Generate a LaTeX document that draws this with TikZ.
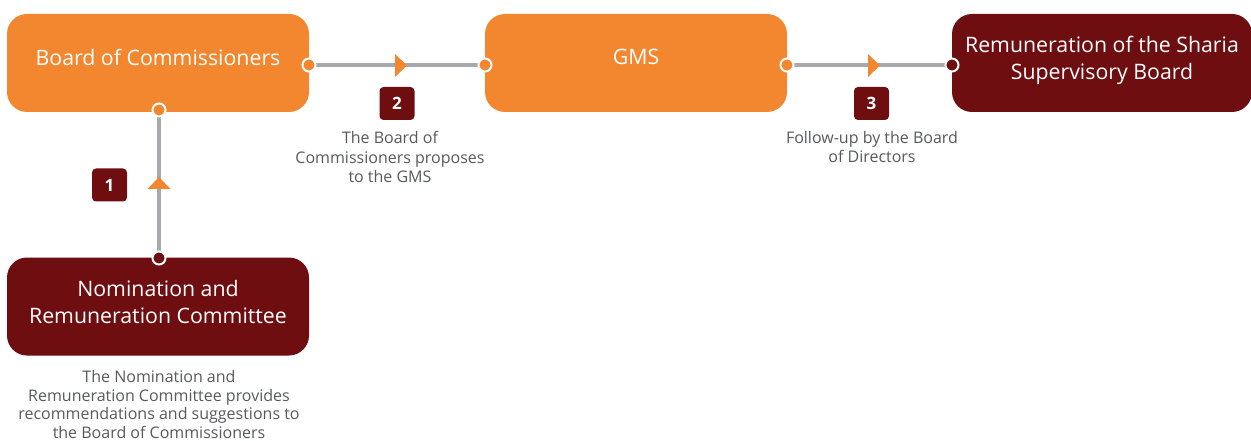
\documentclass[tikz,border=0pt]{standalone}
\usepackage{fontspec}
\setmainfont{Open Sans}
\usetikzlibrary{backgrounds}
\definecolor{orng}{HTML}{F3872F}
\definecolor{dred}{HTML}{6E0E10}
\definecolor{lgray}{HTML}{A7A9AC}
\definecolor{tgray}{HTML}{58595B}
\begin{document}
\begin{tikzpicture}[x=1pt,y=-1pt,
 box/.style={rounded corners=20pt, minimum width=302pt, minimum height=98pt, inner sep=0pt},
 obox/.style={box, fill=orng},
 rbox/.style={box, fill=dred},
 btext/.style={text=white, font=\fontsize{21.3}{27}\selectfont, align=center, inner sep=0pt},
 odot/.style={circle, fill=orng, draw=white, line width=2pt, minimum size=13pt, inner sep=0pt},
 rdot/.style={odot, fill=dred},
 badge/.style={fill=dred, rounded corners=4pt, minimum width=35pt, minimum height=33pt, inner sep=0pt, text=white, font=\fontsize{17}{17}\selectfont\bfseries},
 captxt/.style={text=tgray, font=\fontsize{16}{19.5}\selectfont, align=center, inner sep=0pt},
 link/.style={draw=lgray, line width=4pt}]
\useasboundingbox (0,0) rectangle (1251,441);

% boxes
\node[obox] (boc) at (158,63) {};
\node[btext] (boct) at ([yshift=6pt]boc.center) {Board of Commissioners};
\node[obox] (gms) at (636,63) {};
\node[btext] (gmst) at ([yshift=6pt]gms.center) {GMS};
\node[rbox, minimum width=300pt] (rem) at (1102,63) {};
\node[btext] (remt) at ([yshift=2.5pt]rem.center) {Remuneration of the Sharia\\Supervisory Board};
\node[rbox] (nrc) at (158,306.5) {};
\node[btext] (nrct) at ([yshift=4pt]nrc.center) {Nomination and\\Remuneration Committee};

% dots
\node[odot] (bocR) at (309,65) {};
\node[odot] (bocB) at (159,110) {};
\node[odot] (gmsL) at (485,65) {};
\node[odot] (gmsR) at (787,65) {};
\node[rdot] (remL) at (952,65) {};
\node[rdot] (nrcT) at (159,258) {};

% links
\begin{scope}[on background layer]
\draw[link] (bocR.center) -- (gmsL.center);
\draw[link] (gmsR.center) -- (remL.center);
\draw[link] (nrcT.center) -- (bocB.center);
\end{scope}

% arrowheads
\coordinate (a2) at (401,65.5);
\coordinate (a3) at (874,65.5);
\coordinate (a1) at (159,183);
\fill[orng] ([xshift=-6pt,yshift=11.5pt]a2) -- ([xshift=6pt]a2) -- ([xshift=-6pt,yshift=-11.5pt]a2) -- cycle;
\fill[orng] ([xshift=-6pt,yshift=11.5pt]a3) -- ([xshift=6pt]a3) -- ([xshift=-6pt,yshift=-11.5pt]a3) -- cycle;
\fill[orng] ([xshift=-11.5pt,yshift=-6pt]a1) -- ([yshift=6pt]a1) -- ([xshift=11.5pt,yshift=-6pt]a1) -- cycle;

% badges
\node[badge] (b1) at (109.5,185) {1};
\node[badge] (b2) at (397,103.5) {2};
\node[badge] (b3) at (871.5,103.5) {3};

% captions
\node[captxt] (c2) at (390,157) {The Board of\\Commissioners proposes\\to the GMS};
\node[captxt] (c3) at (872,147) {Follow-up by the Board\\of Directors};
\node[captxt, font=\fontsize{16}{18.5}\selectfont] (c1) at (159,404.5) {The Nomination and\\Remuneration Committee provides\\recommendations and suggestions to\\the Board of Commissioners};
\end{tikzpicture}
\end{document}
